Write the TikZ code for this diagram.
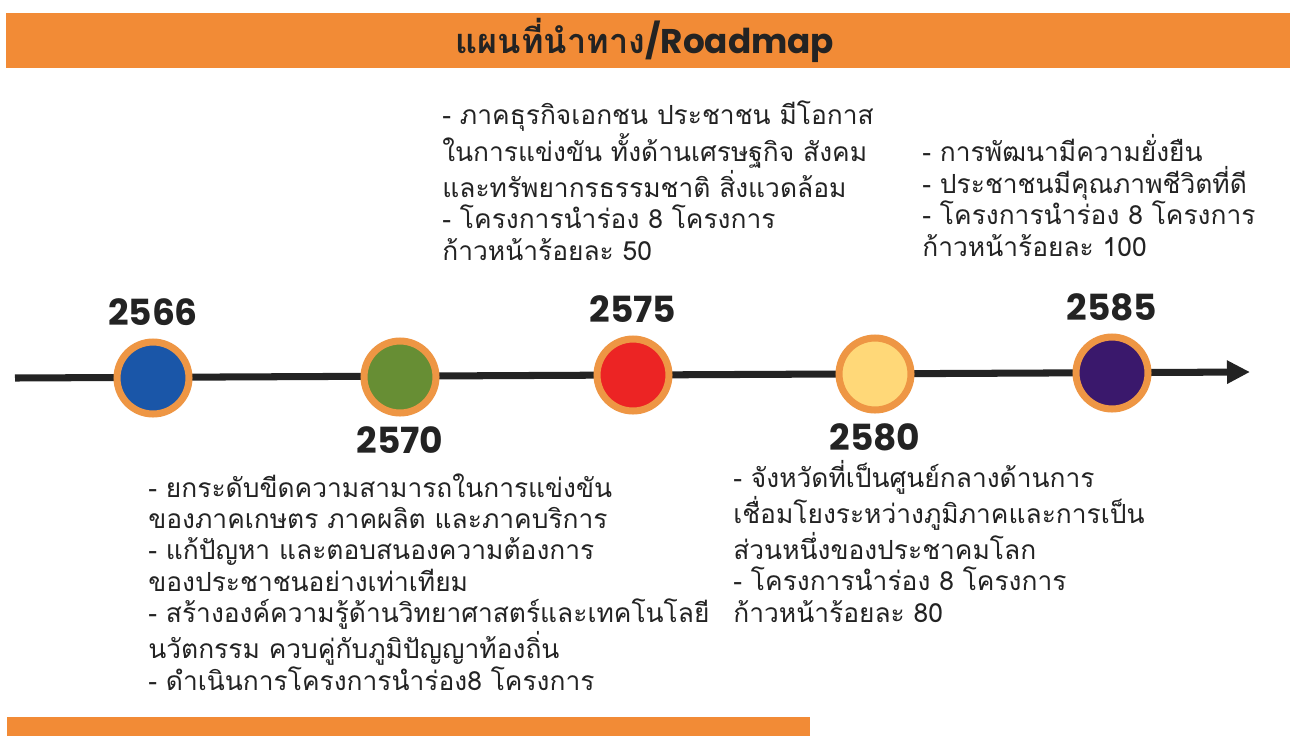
\documentclass[tikz,border=0pt]{standalone}
\usepackage{fontspec}
\setmainfont{Poppins}
\newfontfamily\thaifont[Script=Thai]{Loma}
\usetikzlibrary{positioning}
\usetikzlibrary{arrows.meta}
\definecolor{barorange}{RGB}{242,139,54}
\definecolor{ringorange}{RGB}{238,150,68}
\definecolor{darkline}{RGB}{35,35,35}
\definecolor{dotblue}{RGB}{26,86,168}
\definecolor{dotgreen}{RGB}{103,142,52}
\definecolor{dotred}{RGB}{236,36,36}
\definecolor{dotyellow}{RGB}{255,216,120}
\definecolor{dotpurple}{RGB}{58,24,108}
\tikzset{%
  milestone/.style={circle,draw=ringorange,line width=4pt,minimum size=1.44cm,inner sep=0pt,outer sep=0pt}
}
\tikzset{%
  yearlabel/.style={inner sep=0pt,text=darkline,font=\fontsize{20.5}{20.5}\selectfont\bfseries}
}
\tikzset{%
  notebox/.style={anchor=base west,align=left,inner sep=0pt,text=darkline,font=\thaifont\fontsize{15}{17.9}\selectfont}
}
\newcommand\titletext{{\thaifont\bfseries แผนที่นำทาง}/Roadmap}

\begin{document}
\begin{tikzpicture}[x=0.02cm,y=-0.02cm]
            \useasboundingbox (0,0) rectangle (1292,738);
            \fill[barorange] (6,13) rectangle (1290,68);
            \node[font=\fontsize{19.5}{19.5}\selectfont\bfseries,text=darkline](title) at (645,40) {\titletext};
            \fill[barorange] (7,717) rectangle (810,736);

            \coordinate (linestart) at (15,378);
            \coordinate (lineend) at (1250,372);
            \draw[darkline,line width=4pt,-{Triangle[length=0.46cm,width=0.44cm]}] (linestart) -- (lineend);

            \node[milestone,fill=dotblue](c1) at (153,378) {};
            \node[milestone,fill=dotgreen](c2) at (400,377) {};
            \node[milestone,fill=dotred](c3) at (633,375) {};
            \node[milestone,fill=dotyellow](c4) at (875,374) {};
            \node[milestone,fill=dotpurple](c5) at (1112,373) {};

            \node[yearlabel,above=0.32cm of c1](y1){2566};
            \node[yearlabel,below=0.26cm of c2](y2){2570};
            \node[yearlabel,above=0.32cm of c3](y3){2575};
            \node[yearlabel,below=0.26cm of c4](y4){2580};
            \node[yearlabel,above=0.32cm of c5](y5){2585};

            % base anchor sits on the last line
            \node[notebox](n3) at (442,260) {- ภาคธุรกิจเอกชน ประชาชน มีโอกาส\\ในการแข่งขัน ทั้งด้านเศรษฐกิจ สังคม\\และทรัพยากรธรรมชาติ สิ่งแวดล้อม\\- โครงการนำร่อง 8 โครงการ\\ก้าวหน้าร้อยละ 50};
            \node[notebox](n5) at (922,256) {- การพัฒนามีความยั่งยืน\\- ประชาชนมีคุณภาพชีวิตที่ดี\\- โครงการนำร่อง 8 โครงการ\\ก้าวหน้าร้อยละ 100};
            \node[notebox](n2) at (148,690) {- ยกระดับขีดความสามารถในการแข่งขัน\\ของภาคเกษตร ภาคผลิต และภาคบริการ\\- แก้ปัญหา และตอบสนองความต้องการ\\ของประชาชนอย่างเท่าเทียม\\- สร้างองค์ความรู้ด้านวิทยาศาสตร์และเทคโนโลยี\\นวัตกรรม ควบคู่กับภูมิปัญญาท้องถิ่น\\- ดำเนินการโครงการนำร่อง8 โครงการ};
            \node[notebox](n4) at (733,622) {- จังหวัดที่เป็นศูนย์กลางด้านการ\\เชื่อมโยงระหว่างภูมิภาคและการเป็น\\ส่วนหนึ่งของประชาคมโลก\\- โครงการนำร่อง 8 โครงการ\\ก้าวหน้าร้อยละ 80};
        \end{tikzpicture}
\end{document}
